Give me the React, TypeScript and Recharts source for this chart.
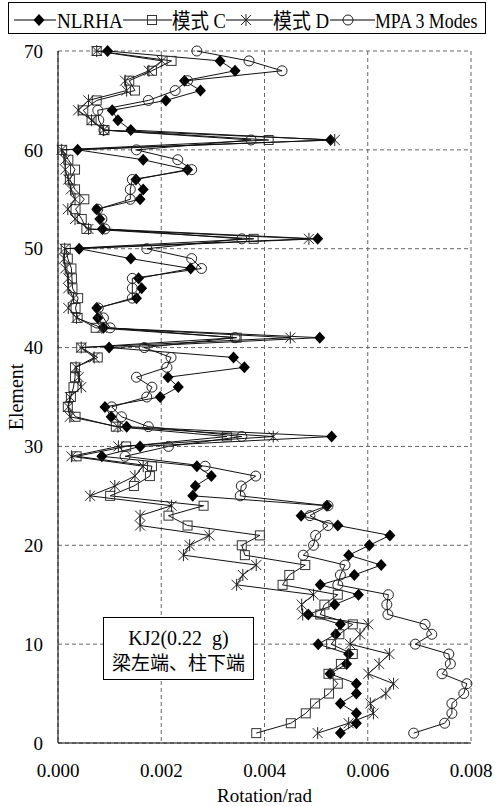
import React from "react";
import {
  ScatterChart,
  Scatter,
  XAxis,
  YAxis,
  CartesianGrid,
  Label,
} from "recharts";

// element numbers 1..70
const ELEMENTS = Array.from({ length: 70 }, (_, i) => i + 1);

// rotation (rad), element 1 -> 70
const NLRHA = [
  0.00547, 0.00578, 0.00578, 0.00547, 0.00578, 0.00578, 0.00527, 0.00559, 0.00563, 0.00504,
  0.00538, 0.00547, 0.00485, 0.00536, 0.00582, 0.00508, 0.00574, 0.00626, 0.00563, 0.00603,
  0.00643, 0.00542, 0.00471, 0.00521, 0.00261, 0.00266, 0.00297, 0.00269, 0.00085, 0.00159,
  0.0053, 0.00133, 0.00103, 0.00091, 0.00198, 0.00233, 0.00213, 0.00361, 0.0034, 0.00099,
  0.00507, 0.00088, 0.00077, 0.00075, 0.00152, 0.00162, 0.00156, 0.00257, 0.00141, 0.00041,
  0.00503, 0.00086, 0.00081, 0.00075, 0.00159, 0.00165, 0.00151, 0.00251, 0.00165, 0.00038,
  0.00528, 0.00141, 0.00116, 0.00105, 0.00209, 0.00276, 0.00245, 0.00343, 0.00314, 0.00096,
];

const MODE_C = [
  0.00384, 0.00451, 0.0048, 0.00498, 0.00525, 0.00542, 0.00524, 0.00548, 0.00571, 0.00529,
  0.00545, 0.00571, 0.00508, 0.00516, 0.00542, 0.00435, 0.00448, 0.00479, 0.00362, 0.00356,
  0.00391, 0.00251, 0.00214, 0.00282, 0.00101, 0.00147, 0.00178, 0.00182, 0.00036, 0.00132,
  0.00327, 0.00112, 0.00034, 0.00019, 0.00025, 0.0003, 0.00033, 0.00033, 0.00077, 0.00045,
  0.00346, 0.00073, 0.00038, 0.00034, 0.00039, 0.00028, 0.00027, 0.00026, 0.00019, 0.00015,
  0.00379, 0.00055, 0.00046, 0.00034, 0.00051, 0.00033, 0.00023, 0.00033, 0.0002, 0.00008,
  0.00408, 0.0009, 0.00065, 0.00049, 0.00075, 0.00149, 0.00138, 0.00182, 0.0022, 0.00075,
];

const MODE_D = [
  0.00503, 0.00563, 0.00611, 0.00605, 0.00635, 0.0065, 0.00601, 0.00622, 0.00642, 0.00566,
  0.00585, 0.00601, 0.00474, 0.00472, 0.00495, 0.00346, 0.00358, 0.00384, 0.00243, 0.00255,
  0.00293, 0.00159, 0.00159, 0.0022, 0.00062, 0.0011, 0.00149, 0.00165, 0.00026, 0.00117,
  0.00417, 0.00116, 0.00023, 0.0002, 0.00023, 0.00045, 0.0004, 0.00035, 0.0007, 0.00045,
  0.0045, 0.00085, 0.00036, 0.0002, 0.0003, 0.0002, 0.0002, 0.00014, 0.00012, 0.00013,
  0.00486, 0.00059, 0.00033, 0.00019, 0.00033, 0.00025, 0.0002, 0.00014, 0.00014, 0.00007,
  0.00536, 0.00088, 0.00065, 0.00039, 0.00059, 0.00133, 0.0013, 0.00176, 0.00201, 0.00075,
];

const MPA = [
  0.00689, 0.00749, 0.00763, 0.00763, 0.00786, 0.00792, 0.00744, 0.0076, 0.00757, 0.00692,
  0.00724, 0.00711, 0.00639, 0.00637, 0.0064, 0.00542, 0.00547, 0.00556, 0.00475, 0.00495,
  0.00499, 0.00523, 0.00488, 0.00523, 0.00353, 0.00355, 0.00383, 0.00285, 0.0013, 0.00214,
  0.00356, 0.00175, 0.00123, 0.00104, 0.00172, 0.00182, 0.00152, 0.00211, 0.00219, 0.00167,
  0.00343, 0.00101, 0.00088, 0.00078, 0.00144, 0.00144, 0.00144, 0.00278, 0.00259, 0.00172,
  0.00356, 0.00091, 0.00085, 0.00077, 0.0014, 0.0014, 0.00144, 0.00259, 0.00232, 0.00152,
  0.00374, 0.00089, 0.00079, 0.00077, 0.00175, 0.00227, 0.00251, 0.00434, 0.0037, 0.00269,
];

const X_TICKS = [0, 0.002, 0.004, 0.006, 0.008];
const Y_TICKS = [0, 10, 20, 30, 40, 50, 60, 70];

const SERIF = '"Liberation Serif", "Times New Roman", Times, serif';
const MIXED = '"Liberation Serif", "Times New Roman", "Noto Sans CJK SC", serif';
const INK = "#111";

const toPoints = (vals: number[]) => vals.map((v, i) => ({ x: v, y: ELEMENTS[i] }));

// marker shapes
function diamond(cx: number, cy: number) {
  return <path d={`M${cx},${cy - 6}L${cx + 5.5},${cy}L${cx},${cy + 6}L${cx - 5.5},${cy}Z`} fill="#000" />;
}
function square(cx: number, cy: number) {
  return <rect x={cx - 4.5} y={cy - 4.5} width={9} height={9} fill="none" stroke="#333" strokeWidth={1} />;
}
function asterisk(cx: number, cy: number) {
  return (
    <g stroke="#222" strokeWidth={1}>
      <line x1={cx} y1={cy - 6} x2={cx} y2={cy + 6} />
      <line x1={cx - 5} y1={cy - 5} x2={cx + 5} y2={cy + 5} />
      <line x1={cx - 5} y1={cy + 5} x2={cx + 5} y2={cy - 5} />
    </g>
  );
}
function ring(cx: number, cy: number) {
  return <circle cx={cx} cy={cy} r={5} fill="none" stroke="#222" strokeWidth={1} />;
}

const shapeOf = (fn: (cx: number, cy: number) => React.ReactElement) => (p: any) =>
  p.cx == null ? <g /> : fn(p.cx, p.cy);

// legend layout: line start/end, marker x, text start, horizontal squeeze
const LEGEND = [
  { name: "NLRHA", mark: diamond, x1: 14, x2: 56, mx: 39, tx: 57, sx: 0.91 },
  { name: "模式 C", mark: square, x1: 123, x2: 172, mx: 152, tx: 172, sx: 0.88 },
  { name: "模式 D", mark: asterisk, x1: 226, x2: 273, mx: 246, tx: 273, sx: 0.9 },
  { name: "MPA 3 Modes", mark: ring, x1: 330, x2: 375, mx: 348, tx: 375, sx: 0.85 },
];

function LegendBox() {
  return (
    <svg width={494} height={40} style={{ position: "absolute", left: 0, top: 0 }}>
      <rect x={8.5} y={2.5} width={477} height={31} fill="#fff" stroke="#000" strokeWidth={1} />
      {LEGEND.map((it, i) => (
        <g key={i}>
          <line x1={it.x1} y1={20} x2={it.x2} y2={20} stroke="#000" strokeWidth={1.2} />
          {it.mark(it.mx, 20)}
          <text
            transform={`translate(${it.tx},27.5) scale(${it.sx},1)`}
            fontSize={21}
            fontFamily={MIXED}
            fill="#000"
          >
            {it.name}
          </text>
        </g>
      ))}
    </svg>
  );
}

export default function App() {
  return (
    <div style={{ position: "absolute", left: 0, top: 0, width: 494, height: 806, background: "#fff" }}>
      <ScatterChart width={494} height={806} margin={{ top: 51, right: 23, bottom: 0, left: 0 }}>
        <CartesianGrid stroke="#666" strokeDasharray="4 3" horizontalValues={Y_TICKS} verticalValues={X_TICKS} />
        <XAxis
          type="number"
          dataKey="x"
          domain={[0, 0.008]}
          ticks={X_TICKS}
          tickFormatter={(v: number) => v.toFixed(3)}
          height={63}
          tickLine={false}
          tickSize={0}
          tickMargin={21}
          stroke="#000"
          tick={{ fontSize: 19, fill: "#000", fontFamily: SERIF }}
        >
          <Label
            value="Rotation/rad"
            position="insideBottom"
            offset={4}
            style={{ fontSize: 19, fill: "#000", fontFamily: SERIF }}
          />
        </XAxis>
        <YAxis
          type="number"
          dataKey="y"
          domain={[0, 70]}
          ticks={Y_TICKS}
          width={58}
          tickLine={false}
          tickSize={0}
          tickMargin={15}
          stroke="#000"
          tick={{ fontSize: 19, fill: "#000", fontFamily: SERIF }}
        >
          <Label
            value="Element"
            angle={-90}
            position="insideLeft"
            offset={16}
            style={{ fontSize: 20, fill: "#000", fontFamily: SERIF, textAnchor: "middle" }}
          />
        </YAxis>
        <Scatter data={toPoints(NLRHA)} line={{ stroke: INK, strokeWidth: 1 }} lineType="joint" shape={shapeOf(diamond)} isAnimationActive={false} />
        <Scatter data={toPoints(MODE_C)} line={{ stroke: INK, strokeWidth: 1 }} lineType="joint" shape={shapeOf(square)} isAnimationActive={false} />
        <Scatter data={toPoints(MODE_D)} line={{ stroke: INK, strokeWidth: 1 }} lineType="joint" shape={shapeOf(asterisk)} isAnimationActive={false} />
        <Scatter data={toPoints(MPA)} line={{ stroke: INK, strokeWidth: 1 }} lineType="joint" shape={shapeOf(ring)} isAnimationActive={false} />
      </ScatterChart>
      <LegendBox />
      <div
        style={{
          position: "absolute",
          left: 103,
          top: 617,
          width: 151,
          height: 63,
          boxSizing: "border-box",
          border: "1px solid #000",
          background: "#fff",
          fontFamily: MIXED,
          textAlign: "center",
        }}
      >
        <div style={{ fontSize: 20, lineHeight: "22px", marginTop: 9 }}>KJ2(0.22&nbsp;&nbsp;g)</div>
        <div style={{ fontSize: 19, lineHeight: "24px", marginTop: 3 }}>梁左端、柱下端</div>
      </div>
    </div>
  );
}
